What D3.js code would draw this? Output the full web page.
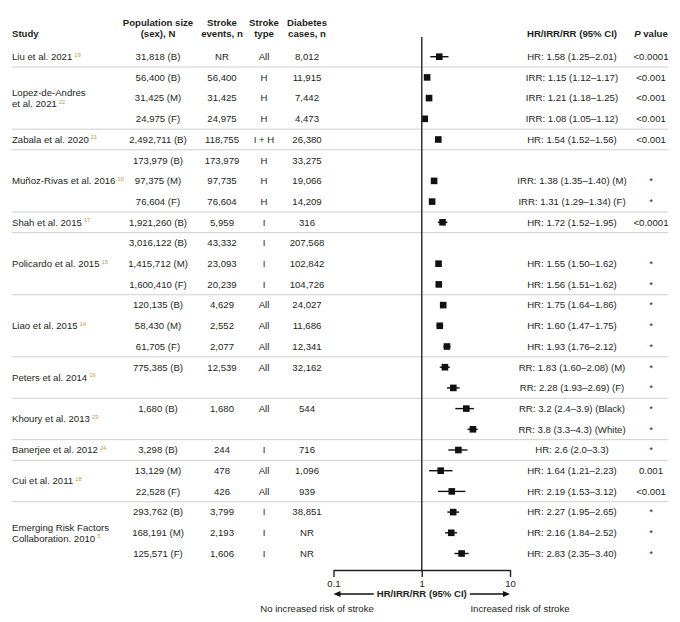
<!DOCTYPE html>
<html>
<head>
<meta charset="utf-8">
<script src="https://cdn.jsdelivr.net/npm/d3@7"></script>
<style>
  body { margin: 0; background: #fff; }
  svg text { font-family: Arial, 'Liberation Sans', sans-serif; fill: #231f20; font-size: 9.6px; }
  .hdr { font-weight: bold; }
  .sep { stroke: #cfcfcf; stroke-width: 1; }
  .sup { font-size: 5.8px; fill: #c39a45; }
</style>
</head>
<body>
<div id="chart"></div>
<script>
'use strict';
// study groups
const studyNames = [['Liu et al. 2021'], ['Lopez-de-Andres', 'et al. 2021'], ['Zabala et al. 2020'],
    ['Muñoz-Rivas et al. 2016'], ['Shah et al. 2015'], ['Policardo et al. 2015'], ['Liao et al. 2015'],
    ['Peters et al. 2014'], ['Khoury et al. 2013'], ['Banerjee et al. 2012'], ['Cui et al. 2011'],
    ['Emerging Risk Factors', 'Collaboration. 2010']]
const studyRefs = ['19', '22', '21', '20', '17', '15', '14', '16', '23', '24', '18', '5']
const studyFirstRow = [0, 1, 4, 5, 8, 9, 12, 15, 17, 19, 20, 22]
const studyLastRow = [0, 3, 4, 7, 8, 11, 14, 16, 18, 19, 21, 24]

// one entry per table row
const population = ['31,818 (B)', '56,400 (B)', '31,425 (M)', '24,975 (F)', '2,492,711 (B)', '173,979 (B)',
    '97,375 (M)', '76,604 (F)', '1,921,260 (B)', '3,016,122 (B)', '1,415,712 (M)', '1,600,410 (F)',
    '120,135 (B)', '58,430 (M)', '61,705 (F)', '775,385 (B)', '', '1,680 (B)', '', '3,298 (B)',
    '13,129 (M)', '22,528 (F)', '293,762 (B)', '168,191 (M)', '125,571 (F)']
const strokeEvents = ['NR', '56,400', '31,425', '24,975', '118,755', '173,979', '97,735', '76,604', '5,959',
    '43,332', '23,093', '20,239', '4,629', '2,552', '2,077', '12,539', '', '1,680', '', '244', '478', '426',
    '3,799', '2,193', '1,606']
const strokeType = ['All', 'H', 'H', 'H', 'I + H', 'H', 'H', 'H', 'I', 'I', 'I', 'I', 'All', 'All', 'All',
    'All', '', 'All', '', 'I', 'All', 'All', 'I', 'I', 'I']
const diabetesCases = ['8,012', '11,915', '7,442', '4,473', '26,380', '33,275', '19,066', '14,209', '316',
    '207,568', '102,842', '104,726', '24,027', '11,686', '12,341', '32,162', '', '544', '', '716', '1,096',
    '939', '38,851', 'NR', 'NR']
const estimate = [1.58, 1.15, 1.21, 1.08, 1.54, null, 1.38, 1.31, 1.72, null, 1.55, 1.56, 1.75, 1.60, 1.93,
    1.83, 2.28, 3.2, 3.8, 2.6, 1.64, 2.19, 2.27, 2.16, 2.83]
const ciLow = [1.25, 1.12, 1.18, 1.05, 1.52, null, 1.35, 1.29, 1.52, null, 1.50, 1.51, 1.64, 1.47, 1.76,
    1.60, 1.93, 2.4, 3.3, 2.0, 1.21, 1.53, 1.95, 1.84, 2.35]
const ciHigh = [2.01, 1.17, 1.25, 1.12, 1.56, null, 1.40, 1.34, 1.95, null, 1.62, 1.62, 1.86, 1.75, 2.12,
    2.08, 2.69, 3.9, 4.3, 3.3, 2.23, 3.12, 2.65, 2.52, 3.40]
const ciLabels = ['HR: 1.58 (1.25–2.01)', 'IRR: 1.15 (1.12–1.17)', 'IRR: 1.21 (1.18–1.25)',
    'IRR: 1.08 (1.05–1.12)', 'HR: 1.54 (1.52–1.56)', '', 'IRR: 1.38 (1.35–1.40) (M)',
    'IRR: 1.31 (1.29–1.34) (F)', 'HR: 1.72 (1.52–1.95)', '', 'HR: 1.55 (1.50–1.62)', 'HR: 1.56 (1.51–1.62)',
    'HR: 1.75 (1.64–1.86)', 'HR: 1.60 (1.47–1.75)', 'HR: 1.93 (1.76–2.12)', 'RR: 1.83 (1.60–2.08) (M)',
    'RR: 2.28 (1.93–2.69) (F)', 'RR: 3.2 (2.4–3.9) (Black)', 'RR: 3.8 (3.3–4.3) (White)',
    'HR: 2.6 (2.0–3.3)', 'HR: 1.64 (1.21–2.23)', 'HR: 2.19 (1.53–3.12)', 'HR: 2.27 (1.95–2.65)',
    'HR: 2.16 (1.84–2.52)', 'HR: 2.83 (2.35–3.40)']
const pValues = ['<0.0001', '<0.001', '<0.001', '<0.001', '<0.001', '', '*', '*', '<0.0001', '', '*', '*',
    '*', '*', '*', '*', '*', '*', '*', '*', '0.001', '<0.001', '*', '*', '*']
const axisTicks = [0.1, 1, 10]

const width = 680
const height = 622
const nRows = population.length
const svg = d3.select('#chart').append('svg')
    .attr('width', width)
    .attr('height', height)

const y = d3.scaleLinear().domain([0, nRows - 1]).range([56.7, 553.5])
const x = d3.scaleLog().domain([0.1, 10]).range([333.5, 510])
const col = { study: 12, pop: 158, events: 222, type: 264, diab: 307, ci: 572, p: 651 }
const axisY = 570

// header
const hdr = svg.append('g').attr('class', 'hdr')
hdr.append('text').attr('class', 'hdr').attr('x', col.study).attr('y', 33.5).attr('dy', '0.35em').text('Study')
const twoLine = [[col.pop, 'Population size', '(sex), N'], [col.events, 'Stroke', 'events, n'],
    [col.type, 'Stroke', 'type'], [col.diab, 'Diabetes', 'cases, n']]
twoLine.forEach(function(h) {
    hdr.append('text').attr('class', 'hdr').attr('x', h[0]).attr('y', 22.5).attr('dy', '0.35em')
        .attr('text-anchor', 'middle').text(h[1])
    hdr.append('text').attr('class', 'hdr').attr('x', h[0]).attr('y', 33.5).attr('dy', '0.35em')
        .attr('text-anchor', 'middle').text(h[2])
})
hdr.append('text').attr('class', 'hdr').attr('x', col.ci).attr('y', 33.5).attr('dy', '0.35em')
    .attr('text-anchor', 'middle').text('HR/IRR/RR (95% CI)')
const pHdr = hdr.append('text').attr('class', 'hdr').attr('x', col.p).attr('y', 33.5).attr('dy', '0.35em')
    .attr('text-anchor', 'middle')
pHdr.append('tspan').attr('font-style', 'italic').text('P')
pHdr.append('tspan').text(' value')

// group separators
svg.append('g').selectAll('line')
    .data(studyLastRow.slice(0, -1)).enter().append('line')
    .attr('class', 'sep')
    .attr('x1', col.study).attr('x2', 668)
    .attr('y1', function(d) { return (y(d) + y(d + 1)) / 2 })
    .attr('y2', function(d) { return (y(d) + y(d + 1)) / 2 })

// study labels with reference superscripts
studyNames.forEach(function(lines, i) {
    const yc = (y(studyFirstRow[i]) + y(studyLastRow[i])) / 2
    const lh = 11.3
    lines.forEach(function(line, j) {
        const t = svg.append('text')
            .attr('x', col.study)
            .attr('y', yc + (j - (lines.length - 1) / 2) * lh)
            .attr('dy', '0.35em')
        t.append('tspan').text(line)
        if (j === lines.length - 1) {
            t.append('tspan').attr('class', 'sup').attr('dx', 2).attr('dy', -3.5).text(studyRefs[i])
        }
    })
})

// table columns
const rows = d3.range(nRows)
const cols = [[col.pop, population], [col.events, strokeEvents], [col.type, strokeType],
    [col.diab, diabetesCases], [col.ci, ciLabels], [col.p, pValues]]
cols.forEach(function(c) {
    svg.append('g').selectAll('text')
        .data(rows).enter().append('text')
        .attr('x', c[0])
        .attr('y', function(d) { return y(d) })
        .attr('dy', '0.35em')
        .attr('text-anchor', 'middle')
        .text(function(d) { return c[1][d] })
})

// forest plot
const pts = rows.filter(function(d) { return estimate[d] !== null })
svg.append('g').selectAll('line')
    .data(pts).enter().append('line')
    .attr('stroke', '#111')
    .attr('stroke-width', 1.4)
    .attr('x1', function(d) { return x(ciLow[d]) })
    .attr('x2', function(d) { return x(ciHigh[d]) })
    .attr('y1', function(d) { return y(d) })
    .attr('y2', function(d) { return y(d) })
const sq = 6.6
svg.append('g').selectAll('rect')
    .data(pts).enter().append('rect')
    .attr('fill', '#111')
    .attr('x', function(d) { return x(estimate[d]) - sq / 2 })
    .attr('y', function(d) { return y(d) - sq / 2 })
    .attr('width', sq)
    .attr('height', sq)

svg.append('line') // line of no effect
    .attr('stroke', '#333')
    .attr('stroke-width', 1.5)
    .attr('x1', x(1)).attr('x2', x(1))
    .attr('y1', 37).attr('y2', axisY)

const axis = svg.append('g')
    .attr('transform', `translate(0, ${axisY})`)
    .call(d3.axisBottom(x).tickValues(axisTicks).tickFormat(function(d) { return String(d) })
        .tickSize(7).tickSizeOuter(0).tickPadding(3))
axis.select('.domain').attr('stroke', '#222').attr('stroke-width', 1.4)
axis.selectAll('.tick line').attr('stroke', '#222').attr('stroke-width', 1.4)
axis.selectAll('.tick text').attr('font-size', '9.6px').attr('font-family', 'Arial, Liberation Sans, sans-serif')
    .attr('fill', '#231f20')

// axis title with arrows
const arrowY = 594
const title = svg.append('text').attr('class', 'hdr')
    .attr('x', x(1)).attr('y', arrowY).attr('dy', '0.35em')
    .attr('text-anchor', 'middle').text('HR/IRR/RR (95% CI)')
const tw = title.node().getComputedTextLength()
const gap = 3
const ah = 6
svg.append('line').attr('stroke', '#111').attr('stroke-width', 1.3)
    .attr('x1', x(0.1) + ah).attr('x2', x(1) - tw / 2 - gap).attr('y1', arrowY).attr('y2', arrowY)
svg.append('line').attr('stroke', '#111').attr('stroke-width', 1.3)
    .attr('x1', x(1) + tw / 2 + gap).attr('x2', x(10) - ah).attr('y1', arrowY).attr('y2', arrowY)
svg.append('path').attr('fill', '#111')
    .attr('d', `M ${x(0.1)} ${arrowY} L ${x(0.1) + ah + 1} ${arrowY - 3} L ${x(0.1) + ah + 1} ${arrowY + 3} Z`)
svg.append('path').attr('fill', '#111')
    .attr('d', `M ${x(10)} ${arrowY} L ${x(10) - ah - 1} ${arrowY - 3} L ${x(10) - ah - 1} ${arrowY + 3} Z`)

svg.append('text').attr('x', 317).attr('y', 609).attr('dy', '0.35em')
    .attr('text-anchor', 'middle').text('No increased risk of stroke')
svg.append('text').attr('x', 520).attr('y', 609).attr('dy', '0.35em')
    .attr('text-anchor', 'middle').text('Increased risk of stroke')
</script>
</body>
</html>
